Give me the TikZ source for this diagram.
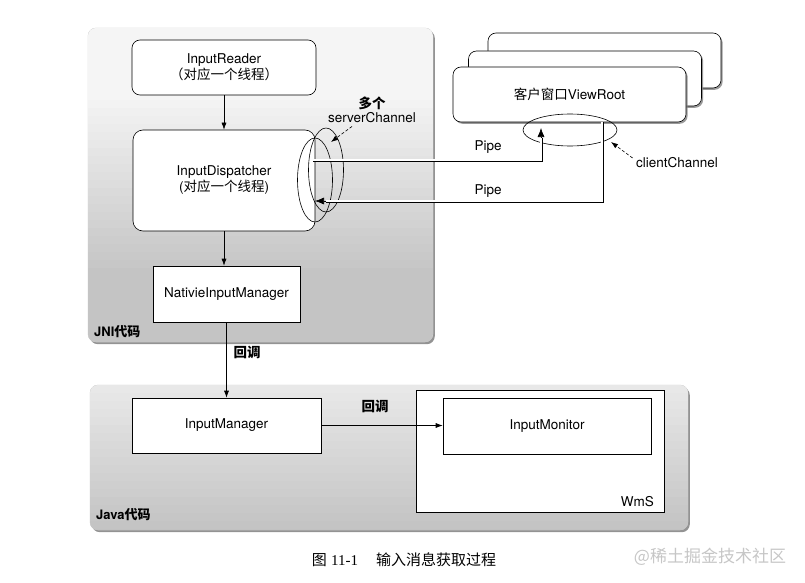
\documentclass[tikz,border=0pt]{standalone}
\usepackage{fontspec}
\setmainfont{TeX Gyre Heros}
\newfontfamily\cjk{Noto Sans CJK SC}
\newfontfamily\capserif{Liberation Serif}
\usetikzlibrary{arrows.meta,shadows,shapes.geometric}

\tikzset{
  panel/.style={rounded corners=8pt, draw=gray!50,
    drop shadow={shadow xshift=1.8pt, shadow yshift=-2.2pt, opacity=0.85}},
  roundbox/.style={draw, fill=white, rounded corners=8pt, line width=0.6pt,
    align=center, inner sep=0pt},
  plainbox/.style={draw, fill=white, line width=0.6pt, align=center, inner sep=0pt},
  winbox/.style={roundbox, minimum width=233pt, minimum height=55pt,
    drop shadow={shadow xshift=1.6pt, shadow yshift=-1.8pt, opacity=0.8}},
  flow/.style={-{Latex[length=7pt,width=5pt]}, line width=0.6pt},
  pipe/.style={double=white, double distance=1.6pt, line width=0.7pt},
  pipehead/.style={-{Latex[length=9pt,width=7pt]}, line width=0.6pt},
  callout/.style={dashed, dash pattern=on 3pt off 2pt, line width=0.6pt,
    -{Latex[length=7pt,width=5pt]}},
  chan/.style={draw, ellipse, line width=0.6pt, inner sep=0pt},
  tag/.style={font=\bfseries\fontsize{13}{15}\selectfont, anchor=west, inner sep=0pt}
}

\begin{document}
\begin{tikzpicture}[x=1pt, y=-1pt, font=\fontsize{13.5}{16}\selectfont]
  \useasboundingbox (0,0) rectangle (805,583);

  % JNI panel
  \path[panel, fill=black!4] (88,28) rectangle (433,342);
  \begin{scope}
    \clip[rounded corners=8pt] (88,28) rectangle (433,342);
    \foreach \k in {0,...,39} {
      \pgfmathsetmacro\tone{min(23, 4 + 19*max(0,\k-8)/22)}
      \fill[black!\tone] (88,28+\k*8) rectangle (433,36.5+\k*8);
    }
  \end{scope}

  % Java panel
  \path[panel, fill=black!9] (90,385) rectangle (688,530);
  \begin{scope}
    \clip[rounded corners=8pt] (90,385) rectangle (688,530);
    \foreach \k in {0,...,18} {
      \pgfmathsetmacro\tone{9 + 15*\k/18}
      \fill[black!\tone] (90,385+\k*8) rectangle (688,393.5+\k*8);
    }
  \end{scope}

  \node[tag] (jnilbl) at (94,332) {JNI{\cjk 代码}};
  \node[tag] (javalbl) at (96,515) {Java{\cjk 代码}};

  % JNI side
  \node[roundbox, minimum width=184pt, minimum height=55pt] (reader) at (224,67.5)
    {InputReader\\{\cjk （对应一个线程）}};
  \node[roundbox, rounded corners=10pt, minimum width=182pt, minimum height=101pt]
    (dispatcher) at (224,180.5) {InputDispatcher\\({\cjk 对应一个线程})};
  \node[plainbox, minimum width=147pt, minimum height=56pt] (native) at (226.5,294)
    {NativieInputManager};

  \draw[flow] (reader.south) -- (dispatcher.north);
  \draw[flow] (dispatcher.south) -- (dispatcher.south |- native.north);

  % Java side
  \node[plainbox, minimum width=248pt, minimum height=122pt] (wms) at (540,451) {};
  \node[anchor=base east] (wmslbl) at ([xshift=-7pt, yshift=6pt]wms.south east) {WmS};
  \node[plainbox, minimum width=208pt, minimum height=56pt] (monitor) at (547,426)
    {InputMonitor};
  \node[plainbox, minimum width=189pt, minimum height=55pt] (jmanager) at (226.5,425.5)
    {InputManager};

  \draw[flow] (native.south) -- (native.south |- jmanager.north);
  \node (cbA) at (247,352) {\cjk\bfseries 回调};
  \draw[flow] (jmanager.east) -- (jmanager.east -| monitor.west);
  \node (cbB) at (375,406) {\cjk\bfseries 回调};

  % Client windows
  \node[winbox] (viewrootC) at (604.5,60.5) {};
  \node[winbox] (viewrootB) at (585,78.5) {};
  \node[winbox] (viewroot) at (569.5,94.5) {{\cjk 客户窗口}ViewRoot};

  % Channels
  \node[chan, minimum width=35pt, minimum height=84pt] (srvA) at (315,180) {};
  \node[chan, minimum width=35pt, minimum height=84pt] (srvB) at (326,170) {};
  \node[chan, minimum width=94pt, minimum height=32pt] (clnt) at (570,130) {};

  % Pipes
  \coordinate (pA) at (313,160);
  \coordinate (pAneck) at (541,138);
  \coordinate (pAtip) at (541,128);
  \coordinate (pBneck) at (326,201);
  \coordinate (pBtip) at (315,201);
  \draw[pipe] (pA) -| (pAneck);
  \draw[pipehead] (pAneck) -- (pAtip);
  \draw[pipe] ([xshift=32.5pt]viewroot.south) |- (pBneck);
  \draw[pipehead] (pBneck) -- (pBtip);
  \node (pipeA) at (488,147) {Pipe};
  \node (pipeB) at (488,191) {Pipe};

  % Channel labels
  \node[align=center, font=\fontsize{13.5}{14}\selectfont] (srvlbl) at (372,110)
    {{\cjk\bfseries 多个}\\serverChannel};
  \draw[callout] ([xshift=-20pt]srvlbl.south) -- (331,142);
  \node (clntlbl) at (677,163) {clientChannel};
  \draw[callout] ([yshift=5pt]clntlbl.west) -- (611,142);

  % Caption
  \node (caption) at (404,560)
    {\fontsize{15}{18}\selectfont{\cjk 图} {\capserif 11-1}\hspace{1.2em}{\cjk 输入消息获取过程}};
  \node[text=gray!45] (mark) at (710,557)
    {\fontsize{17}{20}\selectfont\cjk @稀土掘金技术社区};
\end{tikzpicture}
\end{document}
